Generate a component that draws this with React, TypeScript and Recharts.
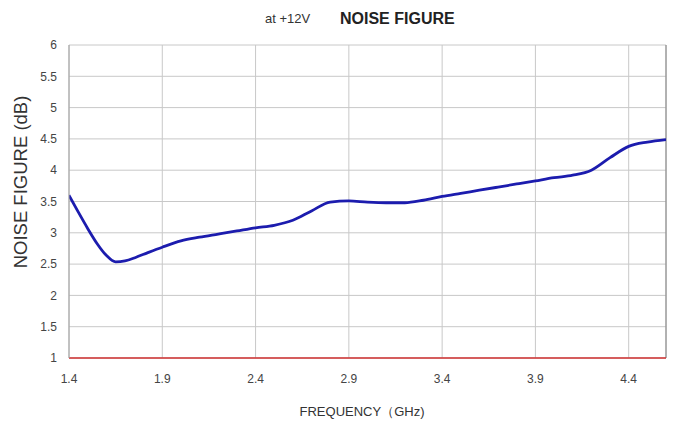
import React from "react";
import { LineChart, Line, XAxis, YAxis, CartesianGrid, ReferenceLine } from "recharts";

const frequencies = [1.4, 1.45, 1.5, 1.55, 1.6, 1.65, 1.7, 1.76, 1.82, 1.9, 2.0, 2.1, 2.2, 2.3, 2.4, 2.5, 2.6, 2.7, 2.8, 2.9, 3.0, 3.1, 3.2, 3.3, 3.4, 3.5, 3.6, 3.7, 3.8, 3.9, 4.0, 4.1, 4.2, 4.3, 4.4, 4.5, 4.6];
const noiseFigure = [3.6, 3.33, 3.07, 2.83, 2.64, 2.535, 2.55, 2.61, 2.68, 2.77, 2.87, 2.93, 2.98, 3.03, 3.08, 3.12, 3.2, 3.35, 3.49, 3.51, 3.49, 3.48, 3.48, 3.52, 3.58, 3.63, 3.68, 3.73, 3.78, 3.83, 3.88, 3.92, 4.0, 4.2, 4.38, 4.45, 4.49];
const xTicks = [1.4, 1.9, 2.4, 2.9, 3.4, 3.9, 4.4];
const yTicks = [1, 1.5, 2, 2.5, 3, 3.5, 4, 4.5, 5, 5.5, 6];

const data = frequencies.map((f, i) => ({ f, nf: noiseFigure[i] }));

const tickStyle = { fontFamily: "Liberation Sans, Arial, sans-serif", fontSize: 12, fill: "#444" };

export default function App() {
  return (
    <div style={{ position: "absolute", left: 0, top: 0, width: 675, height: 424, background: "#fff" }}>
      <LineChart width={675} height={424} data={data} margin={{ top: 45, right: 9, bottom: 36, left: 0 }}>
        <CartesianGrid stroke="#c8c8c8" strokeWidth={1} />
        <XAxis
          dataKey="f"
          type="number"
          domain={[1.4, 4.6]}
          ticks={xTicks}
          tickFormatter={(v: number) => v.toFixed(1)}
          tickLine={false}
          tickSize={0}
          tickMargin={16}
          height={30}
          axisLine={{ stroke: "#d03030", strokeWidth: 1.5 }}
          tick={tickStyle}
          allowDataOverflow
        />
        <YAxis
          type="number"
          domain={[1, 6]}
          ticks={yTicks}
          tickLine={false}
          tickSize={0}
          tickMargin={12}
          width={69}
          axisLine={{ stroke: "#a0a0a0" }}
          tick={tickStyle}
          tickFormatter={(v: number) => String(v)}
        />
        <ReferenceLine x={4.6} stroke="#808080" strokeWidth={1} />
        <Line
          dataKey="nf"
          type="monotone"
          stroke="#1c1cae"
          strokeWidth={2.8}
          dot={false}
          isAnimationActive={false}
        />
        <text x={265} y={23} fontFamily="Liberation Sans Narrow, Arial Narrow, Liberation Sans, sans-serif" fontSize={13} fill="#333" textAnchor="start">
          at +12V
        </text>
        <text x={340} y={24} fontFamily="Liberation Sans Narrow, Arial Narrow, Liberation Sans, sans-serif" fontSize={16} fontWeight="bold" fill="#222" textAnchor="start">
          NOISE FIGURE
        </text>
        <text x={362} y={416} fontFamily="Liberation Sans, Arial, sans-serif" fontSize={13} fill="#333" textAnchor="middle">
          FREQUENCY（GHz)
        </text>
        <text
          x={27}
          y={182}
          transform="rotate(-90 27 182)"
          fontFamily="Liberation Sans, Arial, sans-serif"
          fontSize={18.5}
          fill="#333"
          textAnchor="middle"
        >
          NOISE FIGURE (dB)
        </text>
      </LineChart>
    </div>
  );
}
